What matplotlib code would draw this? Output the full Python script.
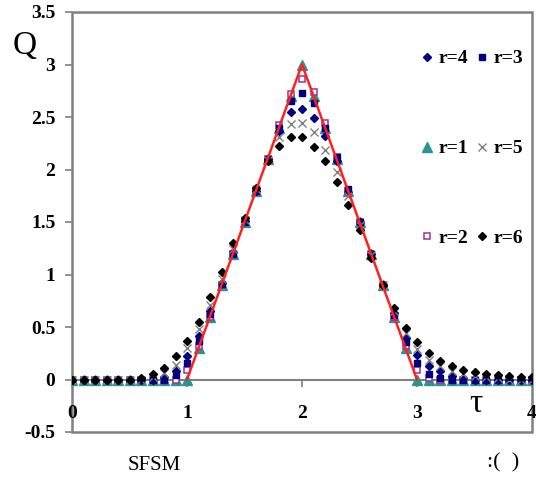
import matplotlib
matplotlib.use("Agg")
import matplotlib.pyplot as plt
from matplotlib.patches import Rectangle
import numpy as np

tau = [round(0.1 * i, 1) for i in range(41)]

r1 = [0, 0, 0, 0, 0, 0, 0, 0, 0, 0,
      0.0, 0.3, 0.6, 0.9, 1.2, 1.5, 1.8, 2.1, 2.4, 2.7,
      3.0,
      2.7, 2.4, 2.1, 1.8, 1.5, 1.2, 0.9, 0.6, 0.3, 0.0,
      0, 0, 0, 0, 0, 0, 0, 0, 0, 0]
r2 = [0, 0, 0, 0, 0, 0, 0, 0, 0, 0,
      0.09, 0.32, 0.60, 0.90, 1.20, 1.50, 1.80, 2.10, 2.42, 2.72,
      2.86,
      2.74, 2.44, 2.12, 1.80, 1.50, 1.20, 0.90, 0.60, 0.32, 0.09,
      0.01, 0, 0, 0, 0, 0, 0, 0, 0, 0]
r3 = [0, 0, 0, 0, 0, 0, 0, 0, 0, 0.04,
      0.16, 0.37, 0.62, 0.91, 1.20, 1.50, 1.80, 2.10, 2.40, 2.65,
      2.73,
      2.63, 2.40, 2.12, 1.81, 1.50, 1.20, 0.90, 0.61, 0.36, 0.16,
      0.05, 0.01, 0, 0, 0, 0, 0, 0, 0, 0]
r4 = [0, 0, 0, 0, 0, 0, 0, 0, 0.02, 0.08,
      0.22, 0.41, 0.65, 0.92, 1.21, 1.51, 1.80, 2.10, 2.37, 2.55,
      2.58,
      2.49, 2.32, 2.08, 1.79, 1.50, 1.20, 0.90, 0.63, 0.40, 0.23,
      0.13, 0.08, 0.03, 0.01, 0, 0, 0, 0, 0, 0]
r5 = [0, 0, 0, 0, 0, 0, 0, 0.02, 0.06, 0.14,
      0.30, 0.48, 0.71, 0.96, 1.24, 1.52, 1.81, 2.09, 2.31, 2.43,
      2.44,
      2.36, 2.19, 1.98, 1.75, 1.47, 1.19, 0.90, 0.65, 0.44, 0.29,
      0.19, 0.13, 0.08, 0.05, 0.03, 0.02, 0.01, 0, 0, 0]
r6 = [0, 0, 0, 0, 0, 0, 0.01, 0.05, 0.11, 0.22,
      0.37, 0.55, 0.79, 1.02, 1.30, 1.54, 1.82, 2.08, 2.22, 2.31,
      2.31,
      2.21, 2.08, 1.88, 1.66, 1.42, 1.16, 0.90, 0.68, 0.49, 0.36,
      0.25, 0.18, 0.13, 0.095, 0.07, 0.05, 0.04, 0.03, 0.02, 0.02]

exact_x = [1, 2, 3]
exact_y = [0, 3, 0]

xticks = [0, 1, 2, 3, 4]
yticks = [-0.5, 0, 0.5, 1, 1.5, 2, 2.5, 3, 3.5]
ytick_labels = ["-0.5", "0", "0.5", "1", "1.5", "2", "2.5", "3", "3.5"]

serif = "Liberation Serif"

fig = plt.figure(figsize=(5.36, 4.80), dpi=100)
ax = fig.add_axes([72 / 536, 48 / 480, 460 / 536, 420 / 480])
ax.set_xlim(0, 4)
ax.set_ylim(-0.5, 3.5)

gray = "#808080"
h1, = ax.plot(tau, r1, ls="none", marker="^", ms=6.5, color="#2a9590", mec="#2a9590", label="r=1", zorder=3)
h2, = ax.plot(tau, r2, ls="none", marker="s", ms=4.6, mfc="white", mec="#993399", mew=1.1, label="r=2", zorder=4)
h3, = ax.plot(tau, r3, ls="none", marker="s", ms=4.6, color="#000080", label="r=3", zorder=5)
h4, = ax.plot(tau, r4, ls="none", marker="D", ms=3.6, color="#000080", label="r=4", zorder=6)
h5, = ax.plot(tau, r5, ls="none", marker="x", ms=6, mew=1.0, color=gray, label="r=5", zorder=7)
h6, = ax.plot(tau, r6, ls="none", marker="D", ms=3.6, color="black", label="r=6", zorder=8)
ax.plot(exact_x, exact_y, color="#ff2020", lw=1.8, zorder=10)

# frame and zero axis
for s in ["top", "right", "left"]:
    ax.spines[s].set_visible(False)
ax.spines["bottom"].set_position(("data", 0))
ax.spines["bottom"].set_color(gray)
ax.spines["bottom"].set_linewidth(1.5)
ax.add_patch(Rectangle((0, 0), 1, 1, transform=ax.transAxes, fill=False,
                       ec=gray, lw=1.8, clip_on=False, zorder=1))

ax.set_xticks(xticks)
ax.set_xticklabels([str(v) for v in xticks])
ax.set_yticks(yticks)
ax.set_yticklabels(ytick_labels)
ax.tick_params(axis="x", direction="out", length=5, width=1.2, color=gray, pad=13)
ax.tick_params(axis="y", direction="out", length=5, width=1.2, color=gray, pad=7)
for lab in ax.get_xticklabels() + ax.get_yticklabels():
    lab.set_fontfamily(serif)
    lab.set_fontweight("bold")
    lab.set_fontsize(14)

leg = ax.legend([h4, h1, h2, h3, h5, h6], ["r=4", "r=1", "r=2", "r=3", "r=5", "r=6"],
                ncol=2, frameon=False, loc="upper left",
                bbox_to_anchor=(341 / 460, 1 - 30 / 420),
                prop={"family": serif, "weight": "bold", "size": 14},
                handlelength=0.6, handletextpad=0.3, columnspacing=0.4,
                labelspacing=3.72, borderaxespad=0, numpoints=1)

fig.text(25 / 536, 1 - 46 / 480, "Q", family=serif, fontsize=24, ha="center", va="center")
fig.text(476 / 536, 1 - 404 / 480, "τ", family=serif, fontsize=24, ha="center", va="center")
fig.text(154 / 536, 1 - 466 / 480, "SFSM", family=serif, fontsize=15, ha="center", va="center")
fig.text(503 / 536, 1 - 463 / 480, ":(  )", family=serif, fontsize=16, ha="center", va="center")

fig.savefig("out.png", dpi=100)
